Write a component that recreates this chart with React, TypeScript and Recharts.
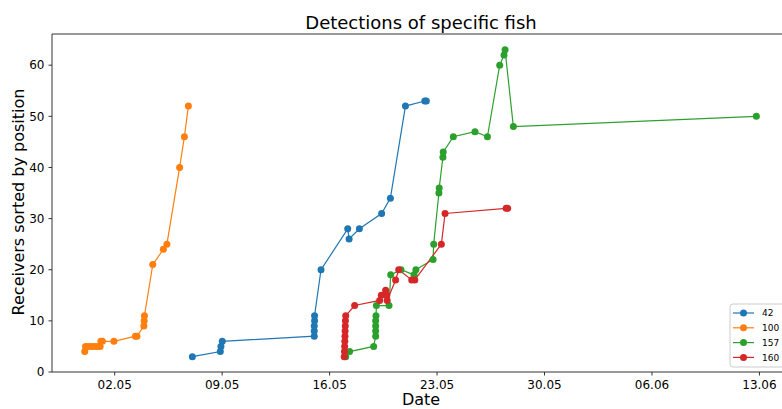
import { LineChart, Line, XAxis, YAxis, ReferenceLine } from "recharts";

// x = day counted from 1 May (June continues at 32, 33, ...), y = receiver position
const dateTicks = [2, 9, 16, 23, 30, 37, 44];
const dateLabels = ["02.05", "09.05", "16.05", "23.05", "30.05", "06.06", "13.06"];
const receiverTicks = [0, 10, 20, 30, 40, 50, 60];

const fishIds = ["42", "100", "157", "160"];
const fishColors = ["#1f77b4", "#ff7f0e", "#2ca02c", "#d62728"];

const fish42 = [
  [7.06, 3], [8.88, 4], [8.92, 5], [9.01, 6], [15.0, 7], [15.0, 8], [15.0, 9],
  [15.02, 10], [15.02, 11], [15.44, 20], [17.18, 28], [17.27, 26], [17.94, 28],
  [19.39, 31], [19.96, 34], [20.94, 52], [22.2, 53], [22.3, 53],
];
const fish100 = [
  [0.05, 4], [0.1, 5], [0.3, 5], [0.5, 5], [0.7, 5], [0.9, 5], [1.05, 5], [1.1, 6],
  [1.2, 6], [1.95, 6], [3.35, 7], [3.45, 7], [3.9, 9], [3.92, 10], [3.94, 11],
  [4.48, 21], [5.17, 24], [5.4, 25], [6.23, 40], [6.54, 46], [6.8, 52],
];
const fish157 = [
  [17.05, 3], [17.3, 4], [18.87, 5], [19.0, 7], [19.0, 8], [19.0, 9], [19.0, 10],
  [19.02, 11], [19.05, 13], [19.87, 13], [19.98, 19], [20.65, 20], [21.5, 19],
  [21.62, 20], [22.74, 22], [22.78, 25], [23.12, 35], [23.14, 36], [23.38, 42],
  [23.4, 43], [24.06, 46], [25.47, 47], [26.28, 46], [27.08, 60], [27.36, 62],
  [27.43, 63], [27.97, 48], [43.8, 50],
];
const fish160 = [
  [16.95, 3], [16.97, 4], [16.98, 5], [16.99, 6], [17.0, 7], [17.01, 8], [17.02, 9],
  [17.03, 10], [17.05, 11], [17.63, 13], [19.26, 14], [19.37, 15], [19.65, 16],
  [19.72, 15], [19.75, 14], [20.3, 18], [20.5, 20], [21.35, 18], [21.55, 18],
  [23.28, 25], [23.52, 31], [27.5, 32], [27.6, 32],
];

const allFish = [fish42, fish100, fish157, fish160];

const font = "'DejaVu Sans', sans-serif";

export default function App() {
  const series = allFish.map((pts) => pts.map(([x, y]) => ({ x, y })));

  return (
    <div style={{ position: "absolute", left: 0, top: 0, width: 782, height: 409, background: "#fff" }}>
      <LineChart width={782} height={409} margin={{ top: 34, right: 0, bottom: 0, left: 0 }}>
        <XAxis
          type="number"
          dataKey="x"
          domain={[-2.084, 45.47]}
          allowDataOverflow
          ticks={dateTicks}
          tickFormatter={(v) => dateLabels[dateTicks.indexOf(v)] ?? ""}
          height={37}
          tickSize={3.5}
          tickMargin={4.5}
          stroke="#333"
          tick={{ fill: "#000", fontSize: 12, fontFamily: font }}
        />
        <YAxis
          type="number"
          domain={[0, 66.1]}
          allowDataOverflow
          ticks={receiverTicks}
          width={52}
          tickSize={3.5}
          tickMargin={4}
          stroke="#333"
          tick={{ fill: "#000", fontSize: 12, fontFamily: font }}
        />
        <ReferenceLine y={66.1} stroke="#333" ifOverflow="extendDomain" />
        {series.map((data, i) => (
          <Line
            key={fishIds[i]}
            data={data}
            dataKey="y"
            type="linear"
            stroke={fishColors[i]}
            strokeWidth={1.2}
            dot={{ r: 3.5, fill: fishColors[i], stroke: "none" }}
            activeDot={false}
            isAnimationActive={false}
          />
        ))}
        <text x={421} y={28.5} textAnchor="middle" fontSize={18} fontFamily={font} fill="#000">
          Detections of specific fish
        </text>
        <text x={421} y={405} textAnchor="middle" fontSize={16} fontFamily={font} fill="#000">
          Date
        </text>
        <text
          x={23.5}
          y={202}
          textAnchor="middle"
          fontSize={16}
          fontFamily={font}
          fill="#000"
          transform="rotate(-90 23.5 202)"
        >
          Receivers sorted by position
        </text>
        <g>
          <rect x={730} y={304} width={60} height={63} rx={3} fill="#fff" fillOpacity={0.8} stroke="#ccc" />
          {fishIds.map((id, i) => {
            const cy = 313 + i * 14.8;
            return (
              <g key={id}>
                <line x1={733} x2={754} y1={cy} y2={cy} stroke={fishColors[i]} strokeWidth={1.2} />
                <circle cx={743.5} cy={cy} r={3.5} fill={fishColors[i]} />
                <text x={762} y={cy + 3.2} fontSize={9} fontFamily={font} fill="#000">
                  {id}
                </text>
              </g>
            );
          })}
        </g>
      </LineChart>
    </div>
  );
}
